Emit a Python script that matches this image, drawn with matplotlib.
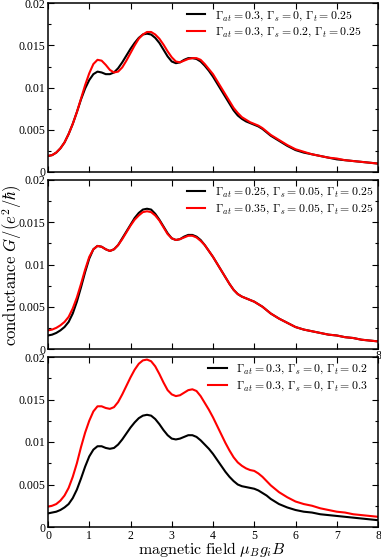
import matplotlib
matplotlib.use("Agg")
import matplotlib.pyplot as plt
from matplotlib.ticker import MultipleLocator

plt.rcParams['mathtext.fontset'] = 'cm'
plt.rcParams['font.family'] = ['Liberation Serif', 'DejaVu Serif']

# x grid for all series
field = [0.0, 0.1, 0.2, 0.3, 0.4, 0.5, 0.6, 0.7, 0.8, 0.9,
         1.0, 1.1, 1.2, 1.3, 1.4, 1.5, 1.6, 1.7, 1.8, 1.9,
         2.0, 2.1, 2.2, 2.3, 2.4, 2.5, 2.6, 2.7, 2.8, 2.9,
         3.0, 3.1, 3.2, 3.3, 3.4, 3.5, 3.6, 3.7, 3.8, 3.9,
         4.0, 4.1, 4.2, 4.3, 4.4, 4.5, 4.6, 4.7, 4.8, 4.9,
         5.0, 5.1, 5.2, 5.3, 5.4, 5.5, 5.6, 5.8, 6.0, 6.2,
         6.4, 6.6, 6.8, 7.0, 7.2, 7.4, 7.6, 7.8, 8.0]

# Panel 1
p1_black = [0.0019, 0.0020, 0.0023, 0.0028, 0.0035, 0.0045, 0.0057, 0.0071, 0.0086, 0.0099,
            0.0109, 0.0116, 0.0119, 0.0118, 0.0116, 0.0116, 0.0118, 0.0123, 0.0130, 0.0138,
            0.0146, 0.0153, 0.0159, 0.0163, 0.0164, 0.0163, 0.0159, 0.0153, 0.0145, 0.0137,
            0.0131, 0.0129, 0.0130, 0.0133, 0.0135, 0.0135, 0.0134, 0.0131, 0.0126, 0.0120,
            0.0113, 0.0105, 0.0097, 0.0089, 0.0081, 0.0073, 0.0067, 0.0063, 0.0060, 0.0058,
            0.0056, 0.0054, 0.0051, 0.0047, 0.0043, 0.0040, 0.0037, 0.0031, 0.0026, 0.0023,
            0.0021, 0.0019, 0.0017, 0.0015, 0.0014, 0.0013, 0.0012, 0.0011, 0.0010]
p1_red = [0.0019, 0.0020, 0.0023, 0.0028, 0.0035, 0.0045, 0.0057, 0.0071, 0.0087, 0.0103,
          0.0117, 0.0128, 0.0133, 0.0132, 0.0127, 0.0121, 0.0118, 0.0119, 0.0124, 0.0132,
          0.0141, 0.0150, 0.0158, 0.0163, 0.0166, 0.0166, 0.0163, 0.0158, 0.0151, 0.0143,
          0.0136, 0.0131, 0.0130, 0.0132, 0.0134, 0.0135, 0.0135, 0.0133, 0.0128, 0.0122,
          0.0116, 0.0108, 0.0100, 0.0092, 0.0084, 0.0076, 0.0070, 0.0065, 0.0062, 0.0059,
          0.0057, 0.0055, 0.0052, 0.0048, 0.0044, 0.0041, 0.0038, 0.0032, 0.0027, 0.0024,
          0.0021, 0.0019, 0.0017, 0.0016, 0.0014, 0.0013, 0.0012, 0.0011, 0.0010]

# Panel 2
p2_black = [0.0016, 0.0017, 0.0019, 0.0022, 0.0026, 0.0032, 0.0042, 0.0056, 0.0073, 0.0091,
            0.0107, 0.0118, 0.0122, 0.0121, 0.0118, 0.0116, 0.0118, 0.0123, 0.0131, 0.0139,
            0.0147, 0.0155, 0.0161, 0.0165, 0.0166, 0.0165, 0.0160, 0.0153, 0.0145, 0.0137,
            0.0131, 0.0129, 0.0130, 0.0133, 0.0135, 0.0135, 0.0133, 0.0129, 0.0123, 0.0116,
            0.0109, 0.0101, 0.0093, 0.0085, 0.0077, 0.0070, 0.0065, 0.0062, 0.0060, 0.0058,
            0.0056, 0.0053, 0.0050, 0.0046, 0.0042, 0.0039, 0.0036, 0.0031, 0.0026, 0.0023,
            0.0021, 0.0019, 0.0017, 0.0016, 0.0014, 0.0013, 0.0011, 0.0010, 0.0009]
p2_red = [0.0022, 0.0023, 0.0025, 0.0028, 0.0032, 0.0038, 0.0048, 0.0061, 0.0077, 0.0094,
          0.0109, 0.0118, 0.0122, 0.0121, 0.0118, 0.0116, 0.0118, 0.0123, 0.0130, 0.0138,
          0.0146, 0.0153, 0.0158, 0.0162, 0.0163, 0.0162, 0.0158, 0.0152, 0.0144, 0.0136,
          0.0131, 0.0129, 0.0130, 0.0132, 0.0134, 0.0134, 0.0132, 0.0128, 0.0123, 0.0116,
          0.0109, 0.0101, 0.0093, 0.0085, 0.0077, 0.0070, 0.0065, 0.0062, 0.0060, 0.0058,
          0.0056, 0.0053, 0.0050, 0.0046, 0.0042, 0.0039, 0.0036, 0.0031, 0.0026, 0.0023,
          0.0021, 0.0019, 0.0017, 0.0016, 0.0014, 0.0013, 0.0011, 0.0010, 0.0009]

# Panel 3
p3_black = [0.0016, 0.0017, 0.0018, 0.0020, 0.0023, 0.0027, 0.0034, 0.0044, 0.0057, 0.0071,
            0.0083, 0.0091, 0.0095, 0.0095, 0.0093, 0.0092, 0.0093, 0.0097, 0.0103, 0.0110,
            0.0117, 0.0123, 0.0128, 0.0131, 0.0132, 0.0131, 0.0127, 0.0121, 0.0114, 0.0108,
            0.0104, 0.0103, 0.0104, 0.0106, 0.0108, 0.0108, 0.0106, 0.0102, 0.0097, 0.0092,
            0.0086, 0.0079, 0.0072, 0.0065, 0.0059, 0.0054, 0.0050, 0.0048, 0.0047, 0.0046,
            0.0045, 0.0043, 0.0040, 0.0037, 0.0033, 0.0030, 0.0027, 0.0023, 0.0020, 0.0018,
            0.0017, 0.0015, 0.0014, 0.0013, 0.0012, 0.0011, 0.0010, 0.0009, 0.0008]
p3_red = [0.0024, 0.0025, 0.0027, 0.0031, 0.0037, 0.0046, 0.0059, 0.0075, 0.0094, 0.0111,
          0.0125, 0.0136, 0.0142, 0.0142, 0.0140, 0.0139, 0.0141, 0.0147, 0.0156, 0.0166,
          0.0176, 0.0185, 0.0192, 0.0196, 0.0197, 0.0195, 0.0189, 0.0180, 0.0170, 0.0161,
          0.0156, 0.0154, 0.0155, 0.0158, 0.0161, 0.0162, 0.0160, 0.0154, 0.0146, 0.0138,
          0.0129, 0.0119, 0.0109, 0.0099, 0.0090, 0.0082, 0.0076, 0.0072, 0.0069, 0.0067,
          0.0066, 0.0063, 0.0059, 0.0054, 0.0049, 0.0045, 0.0041, 0.0035, 0.0030, 0.0027,
          0.0025, 0.0022, 0.0020, 0.0018, 0.0017, 0.0015, 0.0014, 0.0013, 0.0012]

labels1 = [r'$\Gamma_{at}=0.3,\,\Gamma_s=0,\,\Gamma_t=0.25$',
           r'$\Gamma_{at}=0.3,\,\Gamma_s=0.2,\,\Gamma_t=0.25$']
labels2 = [r'$\Gamma_{at}=0.25,\,\Gamma_s=0.05,\,\Gamma_t=0.25$',
           r'$\Gamma_{at}=0.35,\,\Gamma_s=0.05,\,\Gamma_t=0.25$']
labels3 = [r'$\Gamma_{at}=0.3,\,\Gamma_s=0,\,\Gamma_t=0.2$',
           r'$\Gamma_{at}=0.3,\,\Gamma_s=0,\,\Gamma_t=0.3$']

yticks = [0, 0.005, 0.01, 0.015, 0.02]
yticklabels = ['0', '0.005', '0.01', '0.015', '0.02']
xticks = [0, 1, 2, 3, 4, 5, 6, 7, 8]

W, H = 381, 558
fig = plt.figure(figsize=(W / 100, H / 100), dpi=100)

def pos(top, bottom):
    return [48 / W, 1 - bottom / H, 330 / W, (bottom - top) / H]

ax1 = fig.add_axes(pos(3.3, 172))
ax2 = fig.add_axes(pos(180, 349))
ax3 = fig.add_axes(pos(357, 527))

panels = [(ax1, p1_black, p1_red, labels1, (0.42, 0.965)),
          (ax2, p2_black, p2_red, labels2, (0.42, 0.965)),
          (ax3, p3_black, p3_red, labels3, (0.485, 0.965))]

for ax, yb, yr, labs, anchor in panels:
    ax.plot(field, yb, color='black', lw=1.5, label=labs[0])
    ax.plot(field, yr, color='#ff0000', lw=1.5, label=labs[1])
    ax.set_xlim(0, 8)
    ax.set_ylim(0, 0.02)
    ax.set_xticks(xticks)
    ax.set_yticks(yticks)
    ax.set_yticklabels(yticklabels)
    ax.yaxis.set_minor_locator(MultipleLocator(0.0025))
    ax.tick_params(which='both', direction='in', top=True, right=True, labelsize=8.5, pad=2)
    ax.tick_params(which='major', length=4, width=0.8)
    ax.tick_params(which='minor', length=2.2, width=0.8)
    for s in ax.spines.values():
        s.set_linewidth(1.1)
    leg = ax.legend(loc='upper left', bbox_to_anchor=anchor, frameon=False,
                    fontsize=8.5, handlelength=1.6, handletextpad=0.8,
                    borderpad=0, borderaxespad=0, labelspacing=0.3)

ax1.tick_params(labelbottom=False)
ax2.tick_params(labelbottom=False)
ax3.set_zorder(2)

fig.text(379 / W, 1 - 356 / H, '8', fontsize=8.5, ha='center', va='center', zorder=-1)

fig.text(12 / W, 1 - 265 / H, r'$\mathrm{conductance}\ G/(e^2/\hbar)$',
         rotation=90, fontsize=12, ha='center', va='center')
fig.text(212 / W, 1 - 554 / H, r'$\mathrm{magnetic\ field}\ \mu_B g_i B$',
         fontsize=11.5, ha='center', va='baseline')

fig.savefig('out.png', dpi=100)
